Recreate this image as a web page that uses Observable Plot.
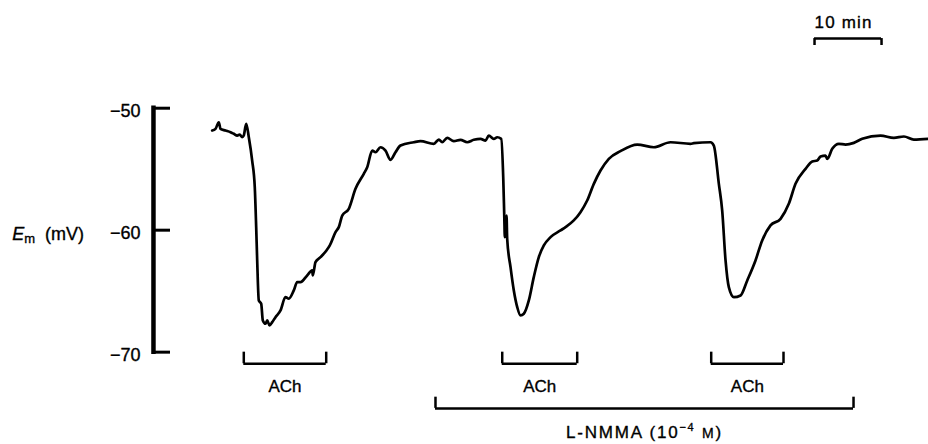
<!DOCTYPE html>
<html>
<head>
<meta charset="utf-8">
<script src="https://cdn.jsdelivr.net/npm/d3@7"></script>
<script src="https://cdn.jsdelivr.net/npm/@observablehq/plot@0.6"></script>
<style>
  html, body { margin: 0; padding: 0; background: #fff; }
  svg { display: block; }
</style>
</head>
<body>
<div id="chart"></div>
<script>
// Time since start of trace (min)
const time = [0.10,0.60,1.09,1.34,2.09,2.84,3.33,3.84,4.22,4.58,
  4.82,5.18,5.57,6.07,6.46,6.67,6.82,7.06,7.42,7.66,
  8.06,8.31,8.66,9.06,9.55,10.30,11.04,11.54,12.28,12.79,
  13.28,14.28,15.03,15.12,15.52,16.27,17.16,17.66,18.51,19.00,
  19.51,20.49,21.49,22.73,23.24,23.99,24.48,25.22,25.97,26.72,
  27.46,28.21,30.19,31.19,33.18,33.93,34.43,35.18,36.16,37.16,
  38.16,39.15,40.15,40.90,41.39,42.13,42.64,43.24,43.54,43.70,
  43.78,44.03,44.13,44.63,45.12,45.63,46.12,46.61,47.36,48.10,
  48.85,49.60,50.60,52.09,52.84,54.07,55.07,56.07,57.06,58.06,
  59.30,61.04,63.54,66.01,68.51,71.49,71.99,74.48,74.97,75.72,
  76.22,76.72,77.21,77.96,78.96,79.96,81.19,82.19,83.43,84.93,
  86.16,87.16,88.66,89.66,90.40,90.90,91.64,91.90,92.64,93.63,
  94.63,95.87,97.12,99.85,101.84,103.34,104.82,107.01];
// Membrane potential Em (mV)
const em = [-51.83,-51.69,-51.15,-51.69,-51.83,-51.97,-52.10,-52.24,-52.16,-52.38,
  -52.24,-51.28,-52.38,-54.29,-56.48,-59.75,-62.48,-65.76,-66.03,-67.40,
  -67.67,-67.40,-67.81,-67.54,-67.13,-66.58,-65.49,-65.62,-64.94,-64.26,
  -64.26,-63.71,-63.30,-63.71,-62.62,-62.21,-61.66,-61.25,-60.16,-59.75,
  -58.80,-58.25,-56.61,-55.38,-54.84,-53.47,-53.61,-53.20,-53.47,-54.23,
  -53.61,-53.06,-52.79,-52.70,-52.92,-52.57,-52.79,-52.43,-52.70,-52.59,
  -52.79,-52.59,-52.51,-52.65,-52.24,-52.51,-52.38,-52.51,-55.66,-58.93,
  -60.57,-58.80,-60.70,-63.03,-64.94,-66.31,-66.99,-66.85,-65.76,-63.85,
  -62.21,-61.25,-60.57,-60.02,-59.75,-59.20,-58.52,-57.57,-56.20,-55.11,
  -54.15,-53.52,-52.98,-53.20,-52.79,-52.92,-52.87,-52.79,-53.06,-56.20,
  -58.39,-62.48,-64.67,-65.49,-65.35,-64.12,-62.48,-60.84,-59.61,-59.07,
  -57.84,-56.20,-54.97,-54.37,-54.29,-53.96,-53.88,-54.15,-53.33,-52.92,
  -52.98,-52.84,-52.51,-52.24,-52.43,-52.32,-52.57,-52.51];

const yTicks = [-50, -60, -70];
const yTickLabels = ["−50", "−60", "−70"];
const yLabel = "Em (mV)";

const achStart = [4.82, 43.39, 74.58];
const achEnd = [17.12, 54.58, 85.37];
const achLabels = ["ACh", "ACh", "ACh"];

const nmmaStart = [33.43];
const nmmaEnd = [95.82];
const nmmaLabel = "L-NMMA (10−4 M)";

const scaleBarStart = [90];
const scaleBarEnd = [100];
const scaleBarLabel = "10 min";

const trace = time.map((t, i) => ({t, v: em[i]}));
const achIdx = achStart.map((_, i) => i);

// layout constants (in data units)
const axisX = -8.66, tickEnd = -6.12, tickLabelX = -10.6, yLabelX = -29.75;
const achTop = -70.0, achBar = -70.95, achText = -73.28;
const nmmaTop = -73.69, nmmaBar = -74.61, nmmaText = -77.02;
const sbBar = -44.29, sbBottom = -44.86, sbText = -43.41;

const sw = 2.5;
const txt = {fill: "#000", stroke: "#000", strokeWidth: 0.35};

const svg = Plot.plot({
  width: 928,
  height: 444,
  margin: 0,
  style: {fontFamily: "'Liberation Sans', Arial, sans-serif", background: "#fff", color: "#000"},
  x: {domain: [-31.49, 107.01], axis: null},
  y: {domain: [-77.57, -41.17], axis: null},
  marks: [
    // y axis
    Plot.ruleX([axisX], {y1: -50, y2: -70, stroke: "#000", strokeWidth: 4.5, strokeLinecap: "square"}),
    Plot.ruleY(yTicks, {x1: axisX, x2: tickEnd, y: d => d, stroke: "#000", strokeWidth: 3}),
    Plot.text(yTicks, {x: tickLabelX, y: d => d, text: (d, i) => yTickLabels[i], textAnchor: "end", fontSize: 18, dy: 3, ...txt}),
    Plot.text([yLabel], {x: yLabelX, y: -60.79, text: d => d, textAnchor: "start", lineAnchor: "bottom", fontSize: 18, ...txt}),
    // trace
    Plot.line(trace, {x: "t", y: "v", stroke: "#000", strokeWidth: 2.7, curve: "monotone-x", strokeLinejoin: "round"}),
    // ACh brackets
    Plot.ruleY(achIdx, {x1: i => achStart[i], x2: i => achEnd[i], y: () => achBar, stroke: "#000", strokeWidth: sw}),
    Plot.ruleX(achIdx, {x: i => achStart[i], y1: () => achTop, y2: () => achBar, stroke: "#000", strokeWidth: sw}),
    Plot.ruleX(achIdx, {x: i => achEnd[i], y1: () => achTop, y2: () => achBar, stroke: "#000", strokeWidth: sw}),
    Plot.text(achIdx, {x: i => (achStart[i] + achEnd[i]) / 2, y: () => achText, text: i => achLabels[i], lineAnchor: "bottom", fontSize: 17, ...txt}),
    // L-NMMA bracket
    Plot.ruleY([0], {x1: () => nmmaStart[0], x2: () => nmmaEnd[0], y: () => nmmaBar, stroke: "#000", strokeWidth: sw}),
    Plot.ruleX([nmmaStart[0], nmmaEnd[0]], {x: d => d, y1: () => nmmaTop, y2: () => nmmaBar, stroke: "#000", strokeWidth: sw}),
    Plot.text([nmmaLabel], {x: () => (nmmaStart[0] + nmmaEnd[0]) / 2, y: () => nmmaText, text: d => d, lineAnchor: "bottom", fontSize: 17, ...txt}),
    // scale bar
    Plot.ruleY([0], {x1: () => scaleBarStart[0], x2: () => scaleBarEnd[0], y: () => sbBar, stroke: "#000", strokeWidth: sw}),
    Plot.ruleX([scaleBarStart[0], scaleBarEnd[0]], {x: d => d, y1: () => sbBar, y2: () => sbBottom, stroke: "#000", strokeWidth: sw}),
    Plot.text([scaleBarLabel], {x: () => scaleBarStart[0], y: () => sbText, text: d => d, textAnchor: "start", lineAnchor: "bottom", fontSize: 17, ...txt})
  ]
});

// rich text: italic E with subscript m; superscript exponent and small-cap M
d3.select(svg).selectAll("text").each(function() {
  const s = this.textContent;
  const el = d3.select(this);
  if (s === yLabel) {
    el.text(null);
    el.append("tspan").attr("font-style", "italic").text("E");
    el.append("tspan").attr("font-size", 13).attr("dy", 3).text("m");
    el.append("tspan").attr("dy", -3).attr("dx", 10).text("(mV)");
  } else if (s === nmmaLabel) {
    el.text(null).attr("letter-spacing", 1.8);
    el.append("tspan").text("L-NMMA (10");
    el.append("tspan").attr("font-size", 11).attr("dy", -7).text("−4");
    el.append("tspan").attr("dy", 7).text(" ");
    el.append("tspan").attr("font-size", 14).text("M");
    el.append("tspan").text(")");
  } else if (s === scaleBarLabel) {
    el.attr("letter-spacing", 1.2);
  }
});

document.getElementById("chart").appendChild(svg);
</script>
</body>
</html>
